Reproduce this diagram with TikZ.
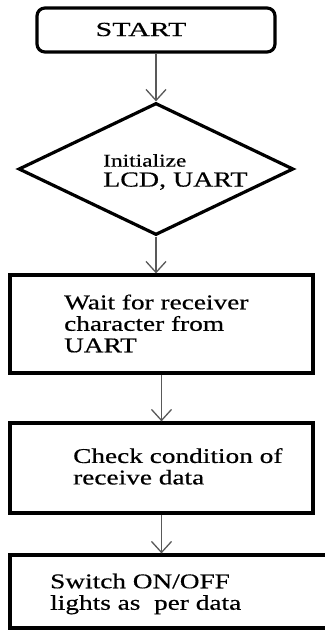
\documentclass[tikz,border=0pt]{standalone}
\usepackage{fontspec}
\setmainfont{Liberation Serif}[FakeStretch=1.3, FakeBold=0.5]
\newfontfamily\startfont{Liberation Serif}[FakeStretch=1.5, FakeBold=0.5]
\usetikzlibrary{shapes.geometric,arrows.meta}

\begin{document}
\begin{tikzpicture}[x=1pt, y=-1pt,
    box/.style={draw, line width=3.2pt, minimum width=303pt, inner sep=0pt},
    txt/.style={anchor=west, align=left, inner sep=0pt, font=\fontsize{21}{21.5}\selectfont},
    link/.style={-{Straight Barb[length=11pt,width=20pt]}, line width=1.3pt, black!65}]
    \useasboundingbox (0,0) rectangle (324,639);

    % Start
    \node[box, rounded corners=8pt, minimum width=238pt, minimum height=44pt] (start) at (156,30) {};
    \node[inner sep=0pt, font=\startfont\fontsize{20}{20}\selectfont] (startlbl) at (141,29.5) {START};

    % Initialize
    \node[draw, diamond, line width=3.2pt, minimum width=275pt, minimum height=132pt,
        inner sep=0pt] (init) at (156,169) {};
    \node[txt, font=\fontsize{21.5}{20}\selectfont] (initlbl) at (103,172)
        {{\fontsize{18}{20}\selectfont Initialize}\\LCD, UART};

    % Wait
    \node[box, minimum height=98pt] (wait) at (161.5,324) {};
    \node[txt] (waitlbl) at (64,323.5) {Wait for receiver\\character from\\UART};

    % Check
    \node[box, minimum height=90pt] (check) at (161.5,468) {};
    \node[txt] (checklbl) at (73,466.4) {Check condition of\\receive data};

    % Switch
    \node[box, minimum width=320pt, minimum height=73pt] (switch) at (170,591.5) {};
    \node[txt] (switchlbl) at (50,594) {Switch ON/OFF\\lights as\ \ per data};

    % Arrows
    \draw[link] (start.south) -- (init.north);
    \draw[link] (init.south) -- (init.south |- wait.north);
    \draw[link] (wait.south) -- (check.north);
    \draw[link] (check.south) -- (check.south |- switch.north);
\end{tikzpicture}
\end{document}
